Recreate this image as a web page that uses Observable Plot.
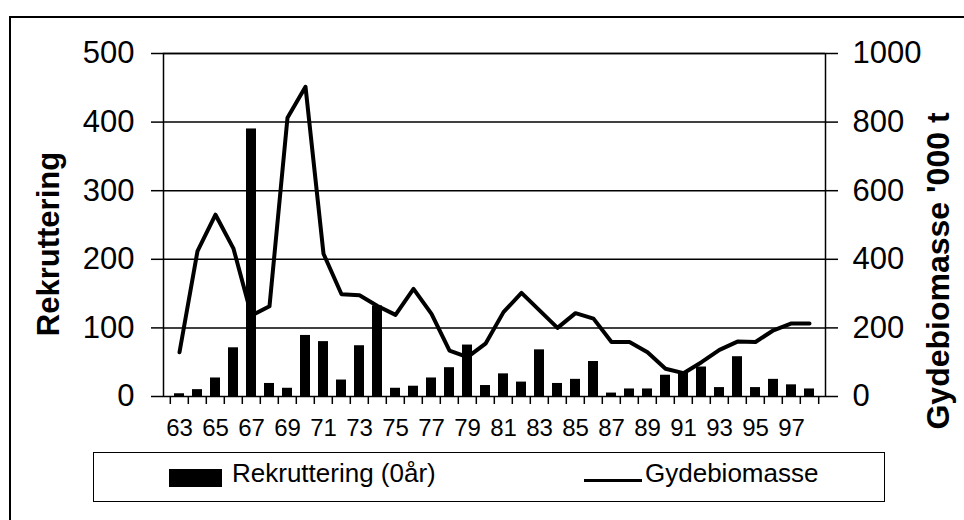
<!DOCTYPE html>
<html><head><meta charset="utf-8">
<script src="https://cdn.jsdelivr.net/npm/d3@7"></script>
<script src="https://cdn.jsdelivr.net/npm/@observablehq/plot@0.6"></script>
<style>
body{margin:0;background:#fff;}
#wrap{position:relative;width:964px;height:520px;overflow:hidden;font-family:"Liberation Sans",Arial,sans-serif;color:#000;background:#fff;}
#chart{position:absolute;left:0;top:0;}
.outer{position:absolute;left:9px;top:16px;width:1000px;height:600px;border-left:2px solid #000;border-top:2px solid #000;}
.ytitle{position:absolute;font-weight:bold;font-size:31px;white-space:nowrap;line-height:31px;transform:translate(-50%,-50%) rotate(-90deg);}
.legend{position:absolute;left:93px;top:452px;width:790px;height:48px;border:1.5px solid #000;}
.sw{position:absolute;background:#000;}
.lt{position:absolute;font-size:26px;line-height:26px;white-space:nowrap;}
</style>
</head><body>
<div id="wrap">
  <div class="outer"></div>
  <div id="chart"></div>
  <div class="ytitle" id="ltitle" style="left:48px;top:244px;">Rekruttering</div>
  <div class="ytitle" id="rtitle" style="left:938px;top:271px;font-size:32px;line-height:32px;">Gydebiomasse '000 t</div>
  <div class="legend"></div>
  <div class="sw" style="left:169px;top:469px;width:53px;height:18px;"></div>
  <div class="lt" style="left:232px;top:460px;">Rekruttering (0år)</div>
  <div class="sw" style="left:584px;top:479px;width:58px;height:3px;"></div>
  <div class="lt" style="left:645px;top:460px;">Gydebiomasse</div>
</div>
<script>
const years = ["63","64","65","66","67","68","69","70","71","72","73","74","75","76","77","78","79","80",
               "81","82","83","84","85","86","87","88","89","90","91","92","93","94","95","96","97","98"];
const recruitment = [4,10,27,71,390,19,12,89,80,24,74,132,12,15,27,42,75,16,
                     33,21,68,19,25,51,5,11,11,31,35,43,13,58,13,25,17,11];
const biomass = [129,424,530,431,236,263,813,903,416,298,295,264,238,314,241,134,115,154,
                 246,302,251,200,243,227,159,159,129,81,68,100,136,160,159,193,213,213];
const leftTicks = [0,100,200,300,400,500];
const labelYears = ["63","65","67","69","71","73","75","77","79","81","83","85","87","89","91","93","95","97"];

const data = years.map((year, i) => ({year, rec: recruitment[i], bio: biomass[i]}));
const W = 964, H = 520, mL = 163, mR = 139, mT = 53, mB = 124;
const step = (W - mL - mR) / years.length;

const chart = Plot.plot({
  width: W, height: H,
  marginLeft: mL, marginRight: mR, marginTop: mT, marginBottom: mB,
  style: {fontFamily: "'Liberation Sans', Arial, sans-serif", color: "black", background: "transparent", overflow: "visible"},
  x: {type: "band", domain: years, paddingInner: 0.45, paddingOuter: 0.225, label: null},
  y: {domain: [0, 500], label: null},
  marks: [
    Plot.gridY(leftTicks.slice(1), {stroke: "black", strokeOpacity: 1, strokeWidth: 1.5}),
    Plot.barY(data, {x: "year", y: "rec", fill: "black"}),
    Plot.line(data, {x: "year", y: d => d.bio / 2, stroke: "black", strokeWidth: 4}),
    Plot.frame({stroke: "black", strokeWidth: 1.5}),
    Plot.axisY(leftTicks, {anchor: "left", tickSize: 12, tickPadding: 17, fontSize: 31, strokeWidth: 1.5, label: null}),
    Plot.axisY(leftTicks, {anchor: "right", tickSize: 12, tickPadding: 15, fontSize: 31, strokeWidth: 1.5, tickFormat: d => String(d * 2), label: null}),
    Plot.axisX(years, {tickSize: 8, tickFormat: () => "", dx: -step / 2, strokeWidth: 1.5, label: null}),
    Plot.axisX(["98"], {tickSize: 8, tickFormat: () => "", dx: step / 2, strokeWidth: 1.5, label: null}),
    Plot.axisX(labelYears, {tickSize: 0, tickPadding: 22, fontSize: 24, label: null})
  ]
});
document.getElementById("chart").appendChild(chart);
</script>
</body></html>
